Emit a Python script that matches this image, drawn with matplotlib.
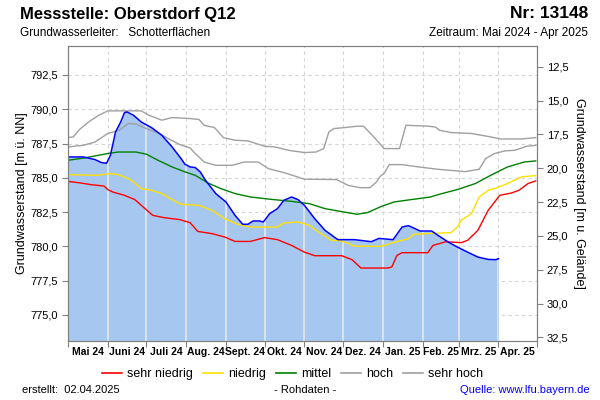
import numpy as np
import pandas as pd
import matplotlib
matplotlib.use("Agg")
import matplotlib.pyplot as plt
from matplotlib.lines import Line2D
from matplotlib.ticker import FuncFormatter

plt.rcParams['font.family'] = ['Liberation Sans', 'DejaVu Sans']

# Grundwasserstand (Rohdaten), m ü. NN
level_dates = ['2024-05-01', '2024-05-13', '2024-05-22', '2024-05-27', '2024-05-31',
               '2024-06-03', '2024-06-07', '2024-06-11', '2024-06-14', '2024-06-16',
               '2024-06-21', '2024-06-27', '2024-07-05', '2024-07-13', '2024-07-21',
               '2024-07-28', '2024-07-31', '2024-08-04', '2024-08-08', '2024-08-12',
               '2024-08-16', '2024-08-24', '2024-09-01', '2024-09-08', '2024-09-14',
               '2024-09-18', '2024-09-22', '2024-09-27', '2024-09-30', '2024-10-05',
               '2024-10-11', '2024-10-16', '2024-10-22', '2024-10-27', '2024-11-01',
               '2024-11-09', '2024-11-17', '2024-11-27', '2024-12-10', '2024-12-23',
               '2024-12-29', '2025-01-09', '2025-01-16', '2025-01-21', '2025-01-25',
               '2025-01-30', '2025-02-08', '2025-02-13', '2025-02-21', '2025-02-28',
               '2025-03-08', '2025-03-16', '2025-03-24', '2025-03-30', '2025-04-01']
level = [786.52, 786.52, 786.33, 786.11, 786.06,
         786.64, 788.34, 789.07, 789.76, 789.80,
         789.56, 789.07, 788.66, 788.10, 787.25,
         786.40, 785.99, 785.79, 785.75, 785.42,
         784.82, 783.85, 783.23, 782.26, 781.61,
         781.61, 781.85, 781.85, 781.78, 782.39,
         782.75, 783.36, 783.60, 783.41, 782.99,
         782.02, 781.17, 780.49, 780.49, 780.34,
         780.58, 780.49, 781.41, 781.51, 781.34,
         781.12, 781.12, 780.80, 780.31, 779.95,
         779.58, 779.22, 779.05, 779.03, 779.10]

# Vergleichslinien
sehr_hoch_dates = ['2024-05-01', '2024-05-05', '2024-05-10', '2024-05-17', '2024-05-25',
                   '2024-06-01', '2024-06-27', '2024-07-03', '2024-07-13', '2024-07-21',
                   '2024-08-04', '2024-08-11', '2024-08-15', '2024-08-23', '2024-08-30',
                   '2024-09-08', '2024-09-18', '2024-10-01', '2024-10-09', '2024-10-20',
                   '2024-11-01', '2024-11-10', '2024-11-16', '2024-11-20', '2024-11-24',
                   '2024-12-02', '2024-12-12', '2024-12-17', '2024-12-25', '2025-01-02',
                   '2025-01-14', '2025-01-19', '2025-02-06', '2025-02-11', '2025-02-14',
                   '2025-02-23', '2025-03-11', '2025-03-26', '2025-04-03', '2025-04-19',
                   '2025-04-30']
sehr_hoch = [787.93, 787.98, 788.52, 789.07, 789.56,
             789.88, 789.88, 789.56, 789.20, 789.39,
             789.32, 789.25, 788.83, 788.66, 787.93,
             787.74, 787.69, 787.30, 787.25, 787.00,
             786.84, 786.88, 787.13, 788.34, 788.59,
             788.66, 788.76, 788.76, 787.98, 787.13,
             787.13, 788.83, 788.76, 788.70, 788.47,
             788.30, 788.23, 787.98, 787.83, 787.83,
             787.93]

hoch_dates = ['2024-05-01', '2024-05-13', '2024-05-22', '2024-06-01', '2024-06-10',
              '2024-06-17', '2024-06-23', '2024-07-01', '2024-07-10', '2024-07-18',
              '2024-07-27', '2024-08-04', '2024-08-08', '2024-08-15', '2024-08-24',
              '2024-09-06', '2024-09-15', '2024-09-26', '2024-10-04', '2024-10-17',
              '2024-11-01', '2024-11-26', '2024-12-05', '2024-12-14', '2024-12-22',
              '2024-12-27', '2024-12-30', '2025-01-02', '2025-01-06', '2025-01-16',
              '2025-01-29', '2025-02-13', '2025-02-28', '2025-03-06', '2025-03-17',
              '2025-03-22', '2025-03-29', '2025-04-06', '2025-04-14', '2025-04-23',
              '2025-04-30']
hoch = [787.25, 787.37, 787.61, 788.23, 788.47,
        788.96, 788.91, 788.59, 788.27, 787.86,
        787.42, 787.18, 786.77, 786.15, 785.91,
        785.91, 786.15, 786.15, 785.67, 785.35,
        784.90, 784.87, 784.45, 784.28, 784.28,
        784.69, 785.11, 785.31, 785.96, 785.96,
        785.79, 785.62, 785.50, 785.45, 785.62,
        786.40, 786.77, 786.96, 787.01, 787.30,
        787.37]

mittel_dates = ['2024-05-01', '2024-05-14', '2024-06-01', '2024-06-09', '2024-06-23',
                '2024-07-01', '2024-07-10', '2024-07-21', '2024-07-30', '2024-08-08',
                '2024-08-18', '2024-08-28', '2024-09-08', '2024-09-20', '2024-10-06',
                '2024-10-22', '2024-11-05', '2024-11-17', '2024-12-02', '2024-12-12',
                '2024-12-20', '2024-12-31', '2025-01-10', '2025-01-23', '2025-02-07',
                '2025-02-16', '2025-02-28', '2025-03-14', '2025-03-26', '2025-04-08',
                '2025-04-21', '2025-04-30']
mittel = [786.28, 786.45, 786.77, 786.88, 786.88,
          786.72, 786.28, 785.79, 785.47, 785.18,
          784.62, 784.21, 783.85, 783.60, 783.43,
          783.28, 783.11, 782.75, 782.50, 782.34,
          782.46, 782.92, 783.24, 783.41, 783.60,
          783.85, 784.14, 784.58, 785.18, 785.79,
          786.15, 786.23]

niedrig_dates = ['2024-05-01', '2024-05-24', '2024-06-02', '2024-06-09', '2024-06-17',
                 '2024-06-22', '2024-06-27', '2024-07-05', '2024-07-13', '2024-07-21',
                 '2024-07-28', '2024-08-11', '2024-08-21', '2024-08-31', '2024-09-10',
                 '2024-09-20', '2024-10-11', '2024-10-16', '2024-10-27', '2024-11-05',
                 '2024-11-12', '2024-11-22', '2024-11-30', '2024-12-10', '2024-12-31',
                 '2025-01-10', '2025-01-21', '2025-01-25', '2025-02-04', '2025-02-23',
                 '2025-02-28', '2025-03-03', '2025-03-11', '2025-03-17', '2025-03-24',
                 '2025-03-31', '2025-04-08', '2025-04-19', '2025-04-30']
niedrig = [785.23, 785.18, 785.31, 785.23, 784.94,
           784.62, 784.21, 784.09, 783.85, 783.41,
           783.07, 782.99, 782.63, 782.02, 781.61,
           781.41, 781.41, 781.71, 781.78, 781.53,
           781.04, 780.44, 780.40, 780.02, 780.00,
           780.31, 780.56, 780.88, 780.93, 781.00,
           781.41, 781.90, 782.39, 783.60, 784.09,
           784.28, 784.58, 785.07, 785.16]

sehr_niedrig_dates = ['2024-05-01', '2024-05-11', '2024-05-19', '2024-05-29', '2024-06-01',
                      '2024-06-05', '2024-06-14', '2024-06-22', '2024-06-30', '2024-07-06',
                      '2024-07-15', '2024-07-27', '2024-08-04', '2024-08-10', '2024-08-21',
                      '2024-08-31', '2024-09-08', '2024-09-20', '2024-10-01', '2024-10-11',
                      '2024-10-22', '2024-11-01', '2024-11-09', '2024-11-30', '2024-12-08',
                      '2024-12-15', '2025-01-05', '2025-01-08', '2025-01-12', '2025-01-16',
                      '2025-02-05', '2025-02-09', '2025-02-14', '2025-02-19', '2025-03-03',
                      '2025-03-08', '2025-03-16', '2025-03-24', '2025-04-02', '2025-04-11',
                      '2025-04-17', '2025-04-24', '2025-04-30']
sehr_niedrig = [784.74, 784.62, 784.50, 784.40, 784.14,
                783.96, 783.72, 783.41, 782.75, 782.26,
                782.09, 781.95, 781.73, 781.09, 780.93,
                780.68, 780.36, 780.36, 780.64, 780.49,
                780.07, 779.58, 779.32, 779.32, 779.03,
                778.42, 778.42, 778.50, 779.34, 779.54,
                779.54, 780.07, 780.20, 780.34, 780.27,
                780.44, 781.17, 782.63, 783.72, 783.89,
                784.09, 784.58, 784.77]

month_labels = ['Mai 24', 'Juni 24', 'Juli 24', 'Aug. 24', 'Sept. 24', 'Okt. 24',
                'Nov. 24', 'Dez. 24', 'Jan. 25', 'Feb. 25', 'Mrz. 25', 'Apr. 25']
left_ticks = [775.0, 777.5, 780.0, 782.5, 785.0, 787.5, 790.0, 792.5]
right_ticks = [12.5, 15.0, 17.5, 20.0, 22.5, 25.0, 27.5, 30.0, 32.5]

fig = plt.figure(figsize=(6, 4), dpi=100)
ax = fig.add_axes([68 / 600, 1 - 341 / 400, (537 - 68) / 600, (341 - 46) / 400])

start = pd.Timestamp('2024-05-01')
end = pd.Timestamp('2025-05-01')
month_starts = pd.date_range(start, end, freq='MS')
month_mids = month_starts[:-1] + (month_starts[1:] - month_starts[:-1]) / 2

ymin, ymax = 773.10, 794.61
ax.set_xlim(start, end)
ax.set_ylim(ymin, ymax)

# dashed grid behind everything
ax.set_axisbelow(True)
ax.set_yticks(left_ticks)
ax.set_xticks(month_starts)
ax.grid(True, color='#d4d4d4', linestyle=(0, (3, 3)), linewidth=0.8)

# filled area under the water level, month lines shown only inside it
ld = pd.to_datetime(level_dates)
fill = ax.fill_between(ld, level, ymin - 5, color='#a6c8f0', linewidth=0, zorder=1)
clip_path = fill.get_paths()[0]
for d in month_starts[1:-1]:
    vl = ax.axvline(d, color='#e8e8e8', linewidth=1.2, zorder=1.5)
    vl.set_clip_path(clip_path, ax.transData)

ax.plot(pd.to_datetime(sehr_hoch_dates), sehr_hoch, color='#a0a0a0', lw=1.0, zorder=3)
ax.plot(pd.to_datetime(hoch_dates), hoch, color='#a0a0a0', lw=1.0, zorder=3)
ax.plot(pd.to_datetime(mittel_dates), mittel, color='#008000', lw=1.0, zorder=3)
ax.plot(pd.to_datetime(niedrig_dates), niedrig, color='#ffe000', lw=1.0, zorder=3)
ax.plot(pd.to_datetime(sehr_niedrig_dates), sehr_niedrig, color='#ff0000', lw=1.0, zorder=3)
ax.plot(ld, level, color='#0000ff', lw=1.1, zorder=4)

comma = FuncFormatter(lambda v, p: f"{v:.1f}".replace('.', ','))

ax.xaxis.set_major_formatter(plt.NullFormatter())
ax.set_xticks(month_mids, minor=True)
ax.set_xticklabels(month_labels, minor=True, fontsize=7.5, fontweight='bold')
ax.tick_params(axis='x', which='minor', length=0, pad=4)
ax.tick_params(axis='x', which='major', length=4, color='#808080')
ax.yaxis.set_major_formatter(comma)
ax.tick_params(axis='y', length=4, color='#808080', labelsize=8, pad=3)
ax.set_ylabel('Grundwasserstand [m ü. NN]', fontsize=9, labelpad=2)

for s in ax.spines.values():
    s.set_color('#808080')

ax2 = ax.twinx()
ax2.set_ylim(32.77, 10.97)
ax2.set_yticks(right_ticks)
ax2.yaxis.set_major_formatter(comma)
ax2.tick_params(axis='y', length=4, color='#808080', labelsize=8, pad=3)
ax2.set_ylabel('Grundwasserstand [m u. Gelände]', fontsize=9, rotation=270, labelpad=12)
for s in ax2.spines.values():
    s.set_color('#808080')

# header
fig.text(20 / 600, 1 - 14 / 400, 'Messstelle: Oberstdorf Q12', fontsize=12, fontweight='bold', va='center')
fig.text(588 / 600, 1 - 14 / 400, 'Nr: 13148', fontsize=12.5, fontweight='bold', va='center', ha='right')
fig.text(20 / 600, 1 - 33 / 400, 'Grundwasserleiter:   Schotterflächen', fontsize=8.5, va='center')
fig.text(588 / 600, 1 - 33 / 400, 'Zeitraum: Mai 2024 - Apr 2025', fontsize=8.5, va='center', ha='right')

# legend
handles = [Line2D([], [], color=c, lw=1.2) for c in ['#ff0000', '#ffe000', '#008000', '#a0a0a0', '#a0a0a0']]
fig.legend(handles, ['sehr niedrig', 'niedrig', 'mittel', 'hoch', 'sehr hoch'],
           loc='center', bbox_to_anchor=(293 / 600, 1 - 374 / 400), ncol=5, frameon=False,
           fontsize=9, handlelength=1.6, handletextpad=0.4, columnspacing=0.8)

# footer
fig.text(22 / 600, 1 - 390 / 400, 'erstellt:  02.04.2025', fontsize=8, va='center')
fig.text(305 / 600, 1 - 390 / 400, '- Rohdaten -', fontsize=8, va='center', ha='center')
fig.text(590 / 600, 1 - 390 / 400, 'Quelle: www.lfu.bayern.de', fontsize=8, va='center', ha='right', color='#0000ff')

fig.savefig('out.png', dpi=100)
